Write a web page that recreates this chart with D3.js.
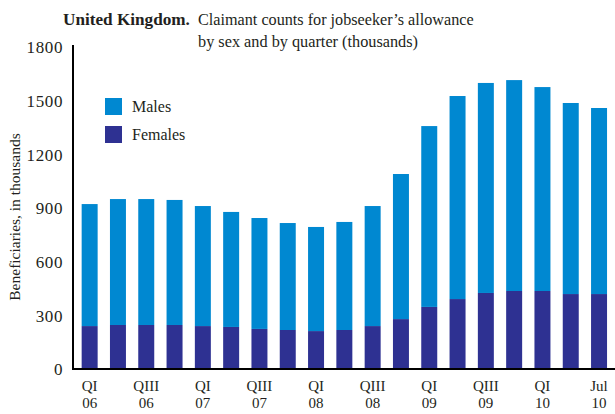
<!DOCTYPE html>
<html>
<head>
<meta charset="utf-8">
<script src="https://cdn.jsdelivr.net/npm/d3@7"></script>
<style>
  html, body { margin: 0; padding: 0; background: #fff; }
  svg { display: block; }
  text { font-family: "Liberation Serif", "DejaVu Serif", serif; fill: #231f20; }
</style>
</head>
<body>
<svg id="chart" width="615" height="414"></svg>
<script>
// Quarterly claimant counts, thousands
const quarters = ["Q1 06","Q2 06","Q3 06","Q4 06","Q1 07","Q2 07","Q3 07","Q4 07",
                  "Q1 08","Q2 08","Q3 08","Q4 08","Q1 09","Q2 09","Q3 09","Q4 09",
                  "Q1 10","Q2 10","Jul 10"];
const females = [240, 246, 246, 246, 240, 235, 224, 218, 212, 218, 240, 279, 347, 391, 425, 436, 436, 419, 419];
const males   = [682, 704, 704, 699, 671, 643, 620, 598, 582, 604, 671, 811, 1011, 1135, 1174, 1179, 1140, 1068, 1040];

// Two-line x labels shown under every second bar
const tickLabels = {
  "Q1 06": ["QI", "06"], "Q3 06": ["QIII", "06"],
  "Q1 07": ["QI", "07"], "Q3 07": ["QIII", "07"],
  "Q1 08": ["QI", "08"], "Q3 08": ["QIII", "08"],
  "Q1 09": ["QI", "09"], "Q3 09": ["QIII", "09"],
  "Q1 10": ["QI", "10"], "Jul 10": ["Jul", "10"]
};
const yTicks = [0, 300, 600, 900, 1200, 1500, 1800];

const seriesNames = ["Females", "Males"];
const colors = { Males: "#0088d1", Females: "#2e3192" };

const svg = d3.select("#chart");

// Scale a text's font size so that it spans the given width
function fitWidth(sel, width) {
  const fs = parseFloat(sel.attr("font-size"));
  const len = sel.node().getComputedTextLength();
  if (len > 0) sel.attr("font-size", (fs * width / len).toFixed(2));
  return sel;
}

const rows = quarters.map((q, i) => ({ q, Females: females[i], Males: males[i] }));
const stacked = d3.stack().keys(seriesNames)(rows);

const x = d3.scaleBand()
  .domain(quarters)
  .range([75.5, 613.2])
  .paddingInner(0.435)
  .paddingOuter(0.2175);

const y = d3.scaleLinear().domain([0, 1800]).range([369, 47]);

// Bars
svg.append("g").selectAll("g")
  .data(stacked)
  .join("g")
  .attr("fill", d => colors[d.key])
  .selectAll("rect")
  .data(d => d)
  .join("rect")
  .attr("x", d => x(d.data.q))
  .attr("width", x.bandwidth())
  .attr("y", d => y(d[1]))
  .attr("height", d => y(d[0]) - y(d[1]));

// Y axis: line and labels, no tick marks
const yAxis = svg.append("g")
  .attr("transform", "translate(73,0)")
  .call(d3.axisLeft(y).tickValues(yTicks).tickSize(0).tickPadding(10).tickFormat(d3.format("d")));
yAxis.select(".domain").attr("d", `M0,${y(1800) - 2}V${y(0) + 1}`)
  .attr("stroke", "#000").attr("stroke-width", 2);
yAxis.selectAll("text")
  .style("font-family", "'Liberation Serif', serif")
  .style("font-size", "17px")
  .style("letter-spacing", "0.6px")
  .attr("fill", "#231f20")
  .attr("dy", "0.35em");

// Baseline
svg.append("line")
  .attr("x1", 72).attr("x2", 615)
  .attr("y1", y(0)).attr("y2", y(0))
  .attr("stroke", "#000").attr("stroke-width", 2);

// X labels
const xl = svg.append("g");
quarters.forEach(q => {
  const lab = tickLabels[q];
  if (!lab) return;
  const cx = x(q) + x.bandwidth() / 2;
  const t = xl.append("text")
    .attr("text-anchor", "middle")
    .attr("font-size", 15);
  t.append("tspan").attr("x", cx).attr("y", 391).text(lab[0]);
  t.append("tspan").attr("x", cx).attr("y", 408).text(lab[1]);
});

// Y axis title
svg.append("text")
  .attr("transform", "translate(20,217) rotate(-90)")
  .attr("text-anchor", "middle")
  .attr("font-size", 15.5)
  .text("Beneficiaries, in thousands");

// Legend
const legend = svg.append("g");
["Males", "Females"].forEach((k, i) => {
  const ly = 98 + i * 28;
  legend.append("rect")
    .attr("x", 105).attr("y", ly)
    .attr("width", 17).attr("height", 17)
    .attr("fill", colors[k]);
  legend.append("text")
    .attr("x", 132).attr("y", ly + 14)
    .attr("font-size", 16)
    .text(k);
});

// Title
fitWidth(svg.append("text").attr("font-size", 17)
  .attr("x", 63).attr("y", 25)
  .attr("font-weight", "bold")
  .text("United Kingdom."), 127);
fitWidth(svg.append("text").attr("font-size", 16)
  .attr("x", 198).attr("y", 25)
  .text("Claimant counts for jobseeker\u2019s allowance"), 276);
fitWidth(svg.append("text").attr("font-size", 16)
  .attr("x", 198).attr("y", 47)
  .text("by sex and by quarter (thousands)"), 220);
</script>
</body>
</html>
